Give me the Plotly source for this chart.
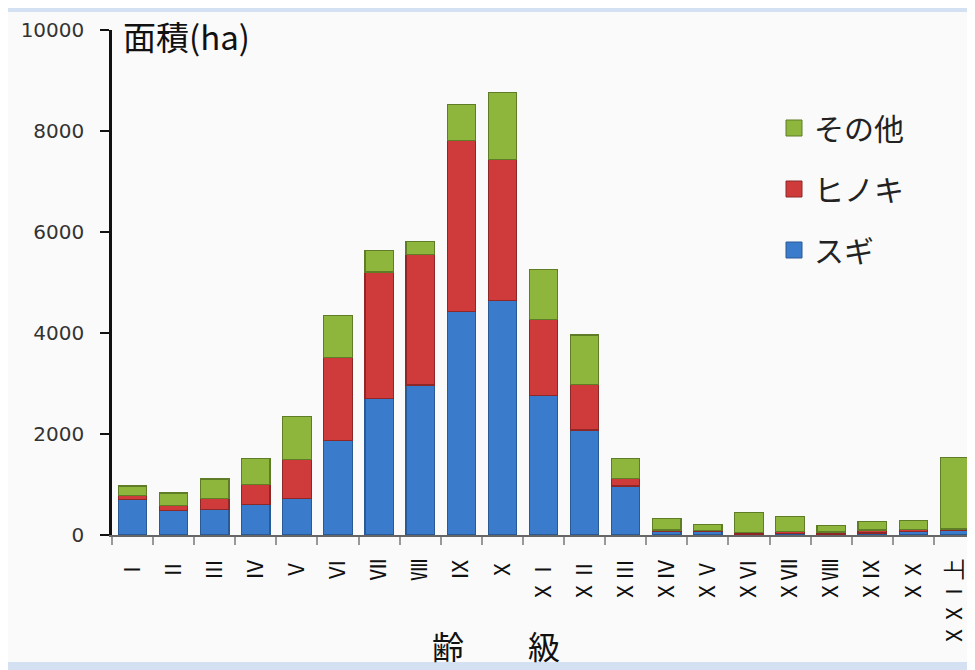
import plotly.graph_objects as go

categories = ["Ⅰ", "Ⅱ", "Ⅲ", "Ⅳ", "Ⅴ", "Ⅵ", "Ⅶ", "Ⅷ", "Ⅸ", "Ⅹ",
              "ⅩⅠ", "ⅩⅡ", "ⅩⅢ", "ⅩⅣ", "ⅩⅤ", "ⅩⅥ", "ⅩⅦ", "ⅩⅧ", "ⅩⅨ", "ⅩⅩ", "ⅩⅩⅠ上"]
sugi =   [710, 490, 500, 600, 730, 1870, 2710, 2970, 4420, 4650, 2760, 2080, 970, 80, 80, 20, 30, 20, 40, 75, 100]
hinoki = [80, 100, 230, 400, 770, 1650, 2500, 2590, 3390, 2790, 1510, 900, 150, 20, 15, 30, 40, 40, 60, 35, 20]
sonota = [180, 240, 380, 520, 840, 820, 420, 245, 720, 1330, 990, 980, 400, 220, 120, 400, 290, 130, 160, 180, 1420]
y_ticks = [0, 2000, 4000, 6000, 8000, 10000]
y_tick_labels = ["0", "2000", "4000", "6000", "8000", "10000"]

series = [
    ("スギ", sugi, "#3b7bcb", "#2a5a96"),
    ("ヒノキ", hinoki, "#cf3a3a", "#8e2828"),
    ("その他", sonota, "#8fb63c", "#5f7d27"),
]

OFF = 8  # page body margin
W, H = 975 - OFF, 670 - OFF
L, T = 112 - OFF, 30 - OFF
pw, ph = 863, 505
R, B = W - L - pw, H - T - ph

def px(x):  # reference-pixel x -> paper
    return (x - OFF - L) / pw

def py(y):  # reference-pixel y -> paper
    return 1 - (y - OFF - T) / ph

fig = go.Figure()
for name, vals, col, line in series:
    fig.add_trace(go.Bar(
        x=categories, y=vals, name=name, showlegend=False,
        marker=dict(color=col, line=dict(color=line, width=1.2)),
    ))

# legend entries (larger squares), top-to-bottom その他, ヒノキ, スギ
for name, vals, col, line in reversed(series):
    fig.add_trace(go.Scatter(
        x=[None], y=[None], mode="markers", name=name, legendgroup=name,
        marker=dict(symbol="square", size=18, color=col, line=dict(color=line, width=1)),
    ))

fig.add_shape(type="rect", xref="paper", yref="paper",
              x0=px(7), x1=px(990), y0=py(662), y1=py(12),
              fillcolor="#fafafa", line=dict(width=0), layer="below")

fig.update_layout(
    width=W, height=H,
    margin=dict(l=L, r=R, t=T, b=B),
    paper_bgcolor="#d3e1f2",
    plot_bgcolor="rgba(0,0,0,0)",
    barmode="stack",
    bargap=0.31,
    showlegend=True,
    legend=dict(
        x=px(774), y=py(102), xanchor="left", yanchor="top",
        traceorder="grouped", tracegroupgap=19,
        font=dict(family="Noto Sans CJK JP", size=30, color="#222"),
        bgcolor="rgba(0,0,0,0)", itemsizing="trace",
    ),
    xaxis=dict(
        type="category", tickangle=-90,
        tickfont=dict(family="Noto Sans CJK JP", size=22, color="#111"),
        showline=True, linecolor="#666", linewidth=1.5,
        ticks="outside", ticklen=8, tickcolor="#999", tickwidth=1.5,
        tickson="boundaries", ticklabelstandoff=13,
        showgrid=False, zeroline=False,
    ),
    yaxis=dict(
        range=[0, 10000], tickvals=y_ticks, ticktext=y_tick_labels,
        tickfont=dict(family="DejaVu Sans", size=20, color="#333"),
        showline=True, linecolor="#111", linewidth=2.5,
        ticks="outside", ticklen=9, tickcolor="#111", tickwidth=2,
        ticklabelstandoff=12,
        showgrid=False, zeroline=False,
    ),
    annotations=[
        dict(text="面積(ha)", x=px(121), y=py(36), xref="paper", yref="paper",
             xanchor="left", yanchor="middle", showarrow=False,
             font=dict(family="Noto Sans CJK JP", size=33, color="#111")),
        dict(text="齢　　級", x=px(496), y=py(645), xref="paper", yref="paper",
             xanchor="center", yanchor="middle", showarrow=False,
             font=dict(family="Noto Sans CJK JP", size=32, color="#111")),
    ],
)

fig.write_html("out.html")
